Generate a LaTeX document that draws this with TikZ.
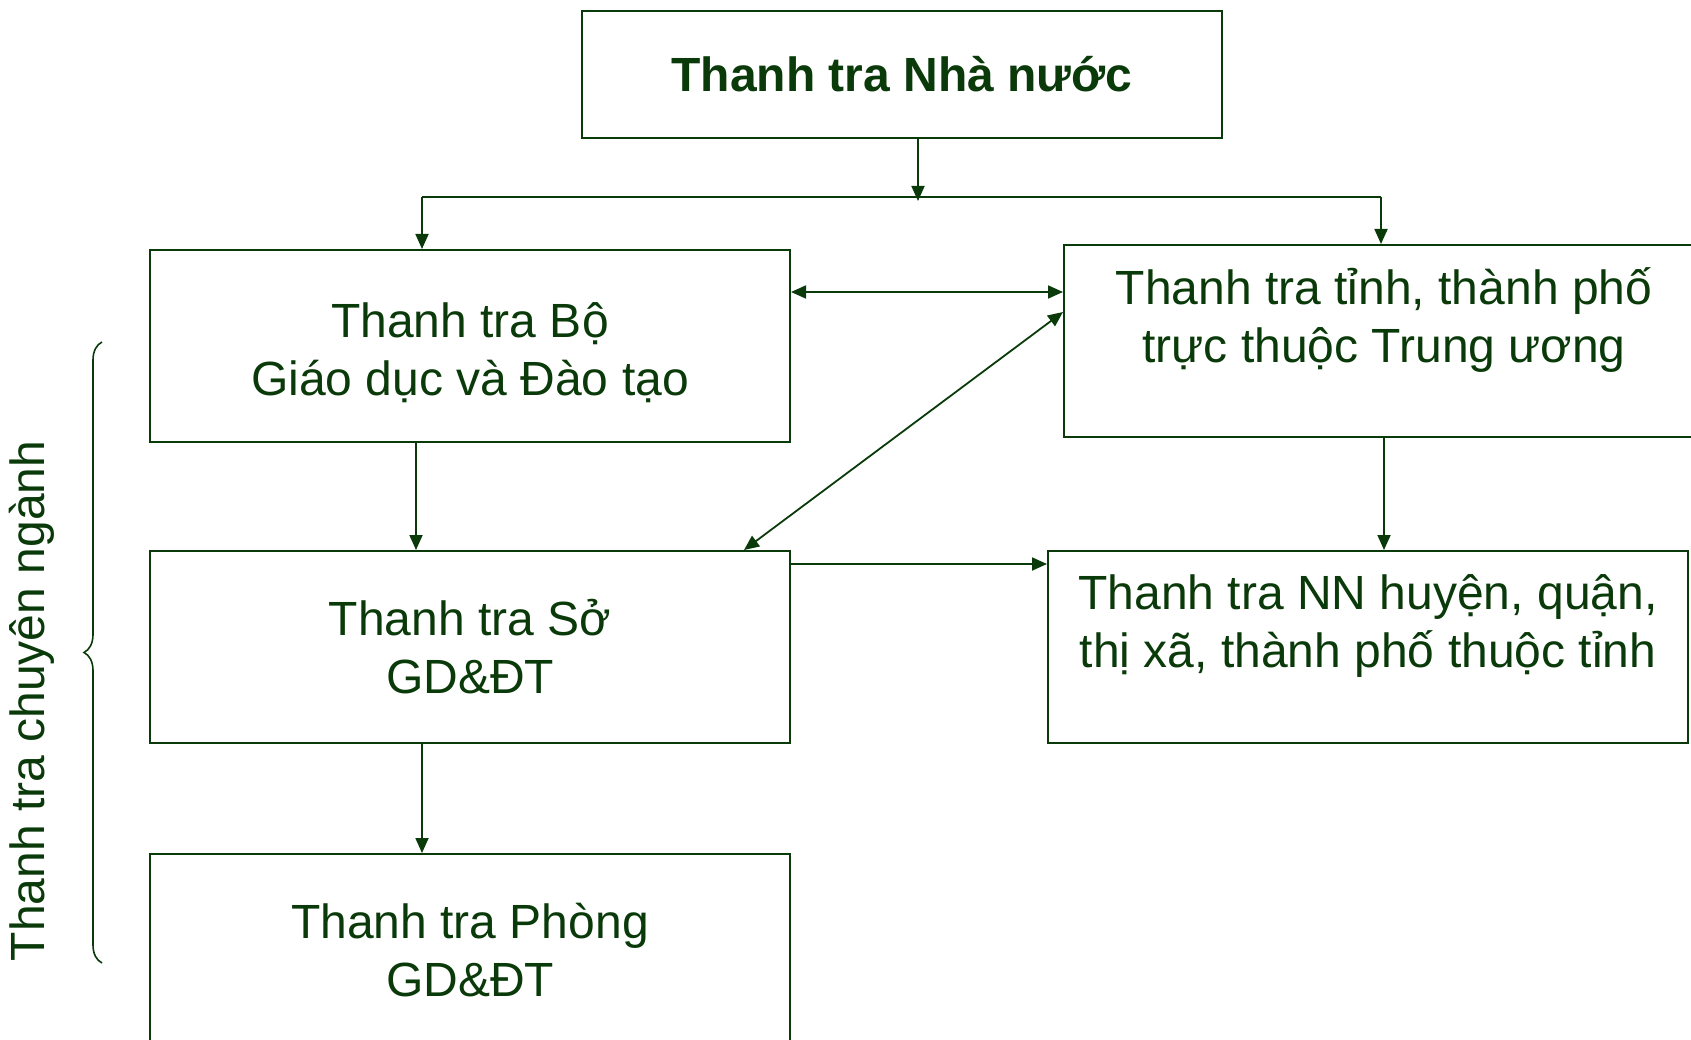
\documentclass[tikz,border=0pt]{standalone}
\usepackage{fontspec}
\setmainfont{Liberation Sans}
\usetikzlibrary{arrows.meta, positioning, decorations.pathreplacing}
\definecolor{forest}{HTML}{0A3A0A}

\begin{document}
\begin{tikzpicture}[x=1pt, y=-1pt, node distance=107pt and 256pt,
  box/.style={rectangle, draw=forest, line width=2pt, minimum width=640pt, minimum height=192pt,
    inner sep=0pt, align=center, text=forest, font=\fontsize{48}{58}\selectfont},
  arr/.style={-{Triangle[length=15pt, width=13pt]}, line width=1.8pt, color=forest},
  arr2/.style={{Triangle[length=15pt, width=13pt]}-{Triangle[length=15pt, width=13pt]}, line width=1.8pt, color=forest}]

  \useasboundingbox (0,0) rectangle (1691,1040);

  \node[box, minimum height=127pt, font=\fontsize{48}{58}\selectfont\bfseries] (ttnn) at (902,74.5) {Thanh tra Nhà nước};
  \node[box] (ttbo) at (470,346) {\mbox{}\\[-10pt]Thanh tra Bộ\\Giáo dục và Đào tạo};
  \node[box, right=272pt of ttbo, yshift=5pt] (tttinh) {Thanh tra tỉnh, thành phố\\trực thuộc Trung ương\\[-6pt]\mbox{}};
  \node[box, below=of ttbo] (ttso) {Thanh tra Sở\\GD\&ĐT};
  \node[box, right=of ttso] (tthuyen) {Thanh tra NN huyện, quận,\\thị xã, thành phố thuộc tỉnh\\[-6pt]\mbox{}};
  \node[box, below=109pt of ttso] (ttphong) {Thanh tra Phòng\\GD\&ĐT};

  \coordinate (split) at (918,197);
  \coordinate (lbr) at (422,197);
  \coordinate (rbr) at (1381,197);
  \draw[arr] (ttnn.south -| split) -- ([yshift=-4pt]split);
  \draw[line width=1.8pt, forest] (lbr) -- (rbr);
  \draw[arr] (lbr) -- (lbr |- ttbo.north);
  \draw[arr] (rbr) -- (rbr |- tttinh.north);

  \draw[arr2] (ttbo.east |- 0,292) -- (tttinh.west |- 0,292);
  \draw[arr2] (ttso.north -| 744,0) -- (tttinh.west |- 0,312);
  \draw[arr] (ttbo.south -| 416,0) -- (ttso.north -| 416,0);
  \draw[arr] (tttinh.south) -- (tttinh.south |- tthuyen.north);
  \draw[arr] (ttso.east |- 0,564) -- (tthuyen.west |- 0,564);
  \draw[arr] (ttso.south -| 422,0) -- (ttphong.north -| 422,0);

  \draw[forest, line width=1.6pt, decorate, decoration={brace, amplitude=18pt}] (102,963) -- (102,342);
  \node[rotate=90, text=forest, font=\fontsize{48}{58}\selectfont] (nganh) at (32,701) {Thanh tra chuyên ngành};
\end{tikzpicture}
\end{document}
